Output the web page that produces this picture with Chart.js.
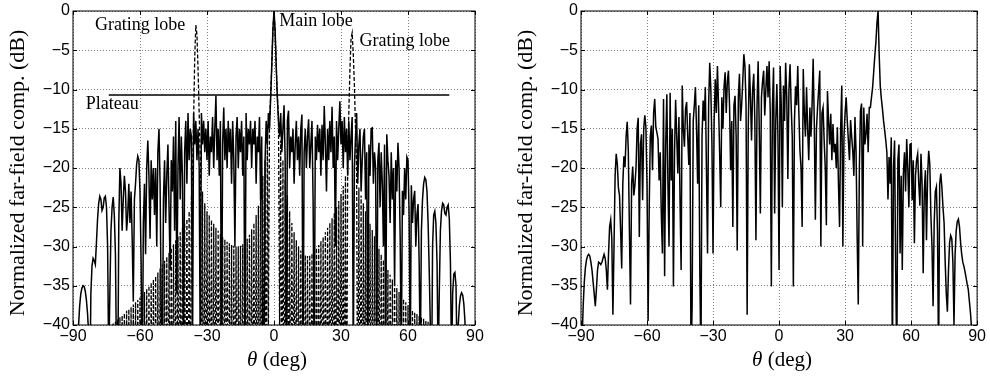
<!DOCTYPE html>
<html>
<head>
<meta charset="utf-8">
<script src="https://cdn.jsdelivr.net/npm/chart.js@4/dist/chart.umd.min.js"></script>
<style>
  html, body { margin: 0; padding: 0; background: #fff; }
  .box { position: absolute; top: 0; width: 495px; height: 376px; }
</style>
</head>
<body>
<div class="box" style="left:0"><canvas id="left"></canvas></div>
<div class="box" style="left:495px"><canvas id="right"></canvas></div>
<script>
// angle grid of the sampled patterns (deg)
const thetaStart = -90;
const thetaStep = 0.5;

const xTicks = [-90, -60, -30, 0, 30, 60, 90];
const yTicks = [-40, -35, -30, -25, -20, -15, -10, -5, 0];

// left plot, solid trace (dB), one row = 5 deg
const leftSolid = [
  -60, -60, -60, -52, -45, -40, -37.5, -36, -35.3, -35,          // -90
  -35.1, -35.7, -36.8, -38.5, -41, -50, -36, -32.5, -31.5, -31.8, // -85
  -32.3, -29.5, -26.5, -24.5, -23.6, -24, -25.4, -25, -23.8, -23.6, // -80
  -25, -30, -45, -36, -28, -25, -23.7, -26, -31, -45,            // -75
  -50, -27, -20, -22, -28, -24, -21, -23, -28, -26,              // -70
  -22, -27, -23, -29, -37, -24, -22, -19.5, -18.5, -19,          // -65
  -23, -32, -50, -27, -22, -31, -20, -16.5, -21, -29,            // -60
  -19, -24, -20, -26, -20, -30, -18, -15, -22, -38,              // -55
  -45, -24, -19, -27, -21, -17, -25, -33, -19, -23,              // -50
  -16, -28, -14, -36, -20, -13.5, -24, -16, -21, -45,            // -45
  -18, -14, -22, -13, -19, -15, -16, -45, -13, -17,              // -40
  -14, -19, -15, -20, -45, -13, -17, -14, -18, -15,              // -35
  -19, -14, -21, -16, -18, -13.5, -20, -15, -10.8, -19,          // -30
  -15, -21, -14, -45, -17, -12.3, -19, -15, -20, -14,            // -25
  -18, -15, -22, -14, -19, -30, -16, -13.5, -20, -15,            // -20
  -18, -14, -21, -16, -45, -13, -19, -15, -17, -14,              // -15
  -20, -15, -17, -14, -22, -16, -18, -13.5, -24, -16,            // -10
  -45, -45, -19, -14, -17, -13, -15, -11, -7, -2.5,              // -5
  0, -2.5, -7, -11, -14, -16, -13, -18, -15, -12,                // 0
  -19, -45, -14, -12.7, -20, -16, -18, -15, -22, -17,            // 5
  -14, -19, -16, -21, -15, -13.2, -45, -18, -15, -20,            // 10
  -16, -13.8, -20, -17, -14, -24, -45, -16, -19, -14.5,          // 15
  -18, -15, -21, -14.5, -19, -12.1, -17, -23, -15, -19,          // 20
  -14, -18, -12.2, -20, -16, -30, -14, -19, -15, -11.5,          // 25
  -17, -14, -20, -13.5, -18, -15, -21, -14, -19, -16,            // 30
  -13.5, -45, -20, -16, -13, -22, -17, -15, -23, -19,            // 35
  -16, -15, -24, -18, -45, -17, -21, -15, -14.9, -22,            // 40
  -18, -20, -45, -19, -16.8, -25, -18, -22, -30, -17,            // 45
  -45, -15.7, -19, -21, -27, -18, -24, -20, -35, -19,            // 50
  -23, -16.8, -20, -29, -45, -22.9, -26, -20, -24, -18.6,        // 55
  -19, -26, -45, -22.2, -27, -24, -22.9, -30, -26, -24.6,        // 60
  -32, -45, -28, -24, -22, -21.2, -21.5, -23, -27, -33,          // 65
  -40, -50, -30, -26, -25.5, -27, -32, -45, -36, -28,            // 70
  -25.5, -24.5, -24.7, -25.8, -26, -25, -24.7, -26.5, -32, -45,  // 75
  -36, -33.5, -33.3, -35, -45, -40, -37.5, -36.3, -35.9, -36.2,  // 80
  -37.3, -39.5, -45, -55, -60, -60, -60, -60, -60, -60,          // 85
  -60                                                            // 90
];

// left plot, dashed trace (dB)
const leftDashed = [
  -60, -60, -60, -60, -60, -60, -60, -60, -60, -60,              // -90
  -60, -60, -60, -60, -60, -60, -60, -60, -60, -60,              // -85
  -60, -60, -60, -60, -60, -60, -60, -60, -60, -60,              // -80
  -60, -60, -41, -60, -40, -60, -39.8, -60, -39.6, -60,          // -75
  -39.3, -60, -39, -60, -38.8, -60, -38.5, -60, -38.2, -60,      // -70
  -38, -60, -37.7, -60, -37.4, -60, -37.1, -60, -36.8, -60,      // -65
  -36.5, -60, -36.2, -60, -35.8, -60, -35.4, -60, -35, -60,      // -60
  -34.6, -60, -34.2, -60, -33.8, -60, -33.3, -60, -32.8, -60,    // -55
  -32.3, -60, -31.8, -60, -31.3, -60, -30.8, -60, -30.2, -60,    // -50
  -29.7, -60, -29.2, -60, -28.7, -60, -28.2, -60, -27.6, -60,    // -45
  -27, -60, -26.5, -60, -25.5, -60, -24, -21, -14, -6,           // -40
  -1.8, -3, -7.5, -13, -19, -60, -23, -60, -24.5, -60,           // -35
  -25.5, -60, -26, -60, -26.6, -60, -27.1, -60, -27.6, -60,      // -30
  -28, -60, -28.4, -60, -28.8, -60, -29.1, -60, -29.4, -60,      // -25
  -29.6, -60, -29.8, -60, -29.9, -60, -30, -60, -30, -60,        // -20
  -29.9, -60, -29.7, -60, -29.4, -60, -29, -60, -28.5, -60,      // -15
  -27.8, -60, -27, -60, -26, -60, -24.8, -60, -23, -60,          // -10
  -21, -60, -19, -60, -16.5, -40, -13.5, -11, -7, -2.5,          // -5
  0, -2.5, -7, -11, -13.5, -40, -16.5, -60, -19, -60,            // 0
  -21.5, -60, -23.5, -60, -25.5, -60, -27, -60, -28.2, -60,      // 5
  -29.2, -60, -30, -60, -30.5, -60, -30.9, -60, -31.1, -60,      // 10
  -31.2, -60, -31.1, -60, -30.9, -60, -30.6, -60, -30.2, -60,    // 15
  -29.8, -60, -29.3, -60, -28.8, -60, -28.2, -60, -27.6, -60,    // 20
  -27, -60, -26.4, -60, -25.7, -60, -25, -60, -24.2, -60,        // 25
  -23.3, -60, -22.3, -60, -21, -60, -18.5, -13, -7.5, -3.5,      // 30
  -2.8, -5.5, -9.5, -15, -20, -60, -22.5, -60, -23.5, -60,       // 35
  -24.5, -60, -25.5, -60, -26.3, -60, -27.1, -60, -27.9, -60,    // 40
  -28.7, -60, -29.5, -60, -30.3, -60, -31, -60, -31.7, -60,      // 45
  -32.4, -60, -33, -60, -33.6, -60, -34.2, -60, -34.8, -60,      // 50
  -35.3, -60, -35.8, -60, -36.3, -60, -36.7, -60, -37.1, -60,    // 55
  -37.5, -60, -37.8, -60, -38.1, -60, -38.4, -60, -38.6, -60,    // 60
  -38.8, -60, -39, -60, -39.2, -60, -39.4, -60, -39.6, -60,      // 65
  -39.8, -60, -40, -60, -60, -60, -60, -60, -60, -60,            // 70
  -60, -60, -60, -60, -60, -60, -60, -60, -60, -60,              // 75
  -60, -60, -60, -60, -60, -60, -60, -60, -60, -60,              // 80
  -60, -60, -60, -60, -60, -60, -60, -60, -60, -60,              // 85
  -60                                                            // 90
];

// right plot, solid trace (dB)
const rightSolid = [
  -50, -42, -37.5, -34.5, -32.7, -31.7, -31.2, -31, -31.2, -32,  // -90
  -33, -34.5, -36, -37.6, -35.5, -33, -32, -32.1, -32.3, -32,    // -85
  -31.5, -31, -31.5, -33, -35.5, -31, -27.5, -26.6, -29, -38.7,  // -80
  -30, -21, -18.2, -19.5, -22.5, -23.5, -28, -32.8, -22, -18.5,  // -75
  -19.9, -16, -14.1, -17.8, -28, -37.4, -22, -19.8, -23.5, -22.2, // -70
  -20, -15, -13.6, -28.8, -17, -15.7, -24.1, -15, -13.3, -14.8,  // -65
  -22, -39.5, -25, -16, -14.6, -20.3, -13, -11.2, -14.8, -15.5,  // -60
  -16.3, -21.6, -18, -26, -30.9, -11.2, -33.8, -17, -10.6, -22,  // -55
  -30, -10.4, -21.6, -15, -35.1, -18, -11.3, -16, -20.7, -13.5,  // -50
  -24, -33, -9.5, -15, -17.3, -12.5, -11.6, -16, -19.6, -13,     // -45
  -45, -37.6, -14, -12, -9.7, -15, -22, -12, -33.4, -45,         // -40
  -16, -11.4, -14, -9.7, -20, -30.9, -12, -6.6, -10, -16.9,      // -35
  -30.9, -14, -8.7, -13, -7, -12, -18, -25, -11, -15,            // -30
  -9.7, -7.8, -13, -9, -7.6, -12, -20.3, -14, -27.5, -12,        // -25
  -10.8, -16, -30.5, -11, -8, -14, -12, -9, -5.5, -7,            // -20
  -12, -38.7, -15, -6.8, -11, -16.5, -10, -8, -14, -29.2,        // -15
  -12, -6.4, -15, -25.8, -11, -9, -7.6, -13.3, -10, -7,          // -10
  -11, -6.4, -13, -35.1, -12, -7.2, -25.8, -14, -9.3, -16,       // -5
  -33, -7, -12, -25, -9.5, -14, -6.6, -11, -21.4, -10,           // 0
  -6.8, -12, -16, -35.1, -14, -9.6, -12, -7, -13, -17.8,         // 5
  -20, -27.5, -7.4, -13, -16, -9.7, -15, -19, -12.3, -16,        // 10
  -12, -6.1, -14, -26.6, -15, -12.3, -10, -7.6, -30, -13,        // 15
  -12.3, -16.5, -20, -27.3, -10.2, -14, -17, -13.1, -19, -14.4,  // 20
  -18, -16.9, -20, -14.8, -22, -27.5, -15, -9.5, -30, -16,       // 25
  -13, -11, -14, -16.5, -19, -13.9, -16, -17.8, -21, -13.5,      // 30
  -18, -28.8, -37.4, -20, -12.7, -11.8, -30, -12.3, -17, -15.7,  // 35
  -13.1, -18, -12.3, -12.3, -11, -9.8, -7.8, -5.8, -4, -1.5,     // 40
  0, -5.5, -9.6, -11.2, -12.5, -14, -15.2, -16.5, -18, -24,      // 45
  -18.6, -22, -16.1, -45, -20, -16.5, -33, -45, -19, -17,        // 50
  -30.9, -21, -33, -20.7, -18, -23, -16.3, -20, -25, -17,        // 55
  -16.9, -24.1, -19, -29.6, -21, -19, -18.2, -22, -24.8, -18.2,  // 60
  -22, -33.4, -23, -20.3, -29.2, -21, -17.8, -19.5, -26, -30,    // 65
  -37.6, -27, -23, -22.4, -28, -45, -22, -20.7, -22.5, -25,      // 70
  -27, -32, -36, -38.3, -33, -29.5, -28.6, -29, -32, -40,        // 75
  -31, -28, -26.8, -26.5, -27.5, -29.5, -31, -32, -32.5, -33.2,  // 80
  -34, -34.8, -35.5, -37, -38.5, -40.5, -45, -55, -60, -60,      // 85
  -60                                                            // 90
];

// plateau marker in the left plot
const plateauTheta = [-74, 78.5];
const plateauLevel = [-10.7, -10.7];

function toPoints(values) {
  return values.map((v, i) => ({ x: thetaStart + i * thetaStep, y: v }));
}

function minusLabel(v) {
  return v < 0 ? '\u2212' + Math.abs(v) : String(v);
}

// frame, inward ticks, axis labels and text notes
const framePlugin = {
  id: 'frame',
  afterDraw(chart, args, opts) {
    const { ctx, chartArea: a, scales: { x, y } } = chart;
    ctx.save();
    ctx.strokeStyle = '#000';
    ctx.lineWidth = 1;
    ctx.strokeRect(a.left, a.top, a.right - a.left, a.bottom - a.top);
    ctx.beginPath();
    xTicks.forEach(t => {
      const px = Math.round(x.getPixelForValue(t)) + 0.5;
      ctx.moveTo(px, a.bottom); ctx.lineTo(px, a.bottom - 4);
      ctx.moveTo(px, a.top); ctx.lineTo(px, a.top + 4);
    });
    yTicks.forEach(t => {
      const py = Math.round(y.getPixelForValue(t)) + 0.5;
      ctx.moveTo(a.left, py); ctx.lineTo(a.left + 4, py);
      ctx.moveTo(a.right, py); ctx.lineTo(a.right - 4, py);
    });
    ctx.stroke();

    ctx.fillStyle = '#000';
    ctx.textBaseline = 'middle';

    // y axis label
    ctx.save();
    ctx.translate(opts.yTitleX, 173);
    ctx.rotate(-Math.PI / 2);
    ctx.textAlign = 'center';
    ctx.font = '22px "Liberation Serif"';
    ctx.fillText('Normalized far-field comp. (dB)', 0, 0);
    ctx.restore();

    // x axis label with italic theta
    ctx.textAlign = 'left';
    ctx.font = 'italic 21px "Liberation Serif"';
    const w1 = ctx.measureText('\u03b8').width;
    ctx.font = '21px "Liberation Serif"';
    const w2 = ctx.measureText(' (deg)').width;
    const x0 = (a.left + a.right) / 2 - (w1 + w2) / 2 + 3;
    ctx.font = 'italic 21px "Liberation Serif"';
    ctx.fillText('\u03b8', x0, 360);
    ctx.font = '21px "Liberation Serif"';
    ctx.fillText(' (deg)', x0 + w1, 360);

    ctx.font = '18px "Liberation Serif"';
    (opts.notes || []).forEach(n => {
      ctx.fillText(n.text, x.getPixelForValue(n.x), y.getPixelForValue(n.y));
    });
    ctx.restore();
  }
};

function makeChart(id, datasets, yWidth, padRight, yTitleX, notes) {
  return new Chart(document.getElementById(id), {
    type: 'line',
    data: { datasets },
    options: {
      responsive: true,
      maintainAspectRatio: false,
      animation: false,
      events: [],
      parsing: false,
      layout: { padding: { top: 9, right: padRight, left: 0, bottom: 0 } },
      elements: { point: { radius: 0, hoverRadius: 0 }, line: { tension: 0 } },
      plugins: {
        legend: { display: false },
        tooltip: { enabled: false },
        frame: { notes, yTitleX }
      },
      scales: {
        x: {
          type: 'linear',
          min: -90,
          max: 90,
          afterBuildTicks: s => { s.ticks = xTicks.map(v => ({ value: v })); },
          afterFit: s => { s.height = 51; },
          ticks: {
            color: '#000',
            padding: 4,
            maxRotation: 0,
            font: { family: 'Liberation Sans', size: 16, lineHeight: 1 },
            callback: minusLabel
          },
          grid: { color: 'rgba(0,0,0,0.5)', lineWidth: 1, drawTicks: false },
          border: { display: false, dash: [1, 2] }
        },
        y: {
          type: 'linear',
          min: -40,
          max: 0,
          afterBuildTicks: s => { s.ticks = yTicks.map(v => ({ value: v })); },
          afterFit: s => { s.width = yWidth; },
          ticks: {
            color: '#000',
            padding: 3,
            font: { family: 'Liberation Sans', size: 16, lineHeight: 1 },
            callback: minusLabel
          },
          grid: { color: 'rgba(0,0,0,0.5)', lineWidth: 1, drawTicks: false },
          border: { display: false, dash: [1, 2] }
        }
      }
    },
    plugins: [framePlugin]
  });
}

makeChart('left', [
  {
    label: 'dashed',
    data: toPoints(leftDashed),
    borderColor: '#000',
    borderWidth: 1.3,
    borderDash: [4, 2],
    clip: 0
  },
  {
    label: 'solid',
    data: toPoints(leftSolid),
    borderColor: '#000',
    borderWidth: 1.5,
    clip: 0
  },
  {
    label: 'plateau',
    data: plateauTheta.map((t, i) => ({ x: t, y: plateauLevel[i] })),
    borderColor: '#000',
    borderWidth: 1.3,
    clip: 0
  }
], 73, 20, 18.5, [
  { text: 'Grating lobe', x: -80.2, y: -1.8 },
  { text: 'Main lobe', x: 2.3, y: -1.3 },
  { text: 'Grating lobe', x: 38.3, y: -3.8 },
  { text: 'Plateau', x: -84.3, y: -11.9 }
]);

makeChart('right', [
  {
    label: 'solid',
    data: toPoints(rightSolid),
    borderColor: '#000',
    borderWidth: 1.5,
    clip: 0
  }
], 86, 10, 31, []);
</script>
</body>
</html>
